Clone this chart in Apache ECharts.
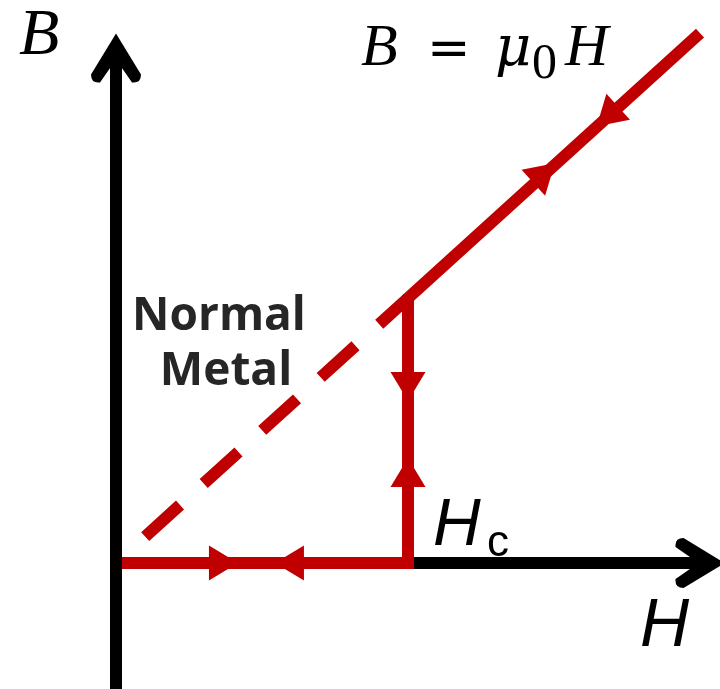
<!DOCTYPE html>
<html>
<head>
<meta charset="utf-8">
<script src="https://cdn.jsdelivr.net/npm/echarts@6/dist/echarts.min.js"></script>
<style>
  html, body { margin: 0; padding: 0; background: #fff; }
  #chart { width: 720px; height: 689px; }
</style>
</head>
<body>
<div id="chart"></div>
<script>
// Magnetisation curve of a type-I superconductor: B stays 0 below Hc,
// jumps to the normal-metal line B = mu0 H above it.
const curveH = [0, 10, 10, 20];   // solid path: Meissner state, jump at Hc, normal branch
const curveB = [0, 0, 10, 20];
const normalH = [1, 10];          // dashed continuation of B = mu0 H below Hc
const normalB = [1, 10];

// direction markers along the path
const arrowH = [3.68, 5.94, 10, 10, 14.66, 16.83];
const arrowB = [0, 0, 6.66, 3.42, 14.72, 16.85];
const arrowDir = ['right', 'left', 'down', 'up', 'forward', 'back'];

const axisRange = { hMin: 0, hMax: 20, bMin: -4.75, bMax: 19.06 };

const RED = '#C00000';
const chevron = 'path://M25,0 L50,41 Q50,50 41,49 L25,26 L9,49 Q0,50 0,41 Z';

const chart = echarts.init(document.getElementById('chart'), null, { renderer: 'canvas' });

function pairs(xs, ys) { return xs.map((x, i) => [x, ys[i]]); }

function txt(x, y, text, font, extra) {
  return { type: 'text', x: x, y: y,
           style: Object.assign({ text: text, font: font, fill: '#000', verticalAlign: 'middle' }, extra || {}) };
}

function baseOption(rotations) {
  return {
    animation: false,
    backgroundColor: '#ffffff',
    grid: { left: 116, right: 20, top: 58, bottom: 0, containLabel: false },
    xAxis: {
      type: 'value', min: axisRange.hMin, max: axisRange.hMax, z: 0,
      axisLine: { onZero: true, lineStyle: { color: '#000', width: 12 },
                  symbol: ['none', chevron], symbolSize: [50, 50] },
      axisTick: { show: false }, axisLabel: { show: false }, splitLine: { show: false }
    },
    yAxis: {
      type: 'value', min: axisRange.bMin, max: axisRange.bMax, z: 5,
      axisLine: { onZero: false, lineStyle: { color: '#000', width: 12 },
                  symbol: ['none', chevron], symbolSize: [50, 50] },
      axisTick: { show: false }, axisLabel: { show: false }, splitLine: { show: false }
    },
    series: [
      {
        type: 'line', data: pairs(normalH, normalB), clip: false, symbol: 'none', z: 2,
        lineStyle: { color: RED, width: 12, type: [47, 32], cap: 'butt' }
      },
      {
        type: 'line', data: pairs(curveH, curveB), clip: false, symbol: 'none', z: 3,
        lineStyle: { color: RED, width: 12, join: 'miter', cap: 'butt' }
      },
      {
        type: 'scatter', data: pairs(arrowH, arrowB), clip: false, z: 4,
        symbol: 'triangle', symbolSize: [35, 29],
        symbolRotate: (v, p) => rotations[p.dataIndex],
        itemStyle: { color: RED, opacity: 1 }
      }
    ],
    graphic: [
      // axis names
      txt(19, 37, 'B', 'italic 66px "Liberation Serif"'),
      txt(640, 627, 'H', 'italic 68px "Liberation Sans"'),
      // B = mu0 H
      txt(361, 49, 'B', 'italic 60px "Liberation Serif"'),
      txt(427, 51, '=', '52px "DejaVu Sans"'),
      txt(495, 50, 'μ', 'italic 56px "DejaVu Serif"'),
      txt(532, 65, '0', '50px "Liberation Serif"'),
      txt(565, 49, 'H', 'italic 60px "Liberation Serif"'),
      // region label
      txt(219, 317, 'Normal', 'bold 46px "Open Sans"', { fill: '#262626', align: 'center' }),
      txt(226, 372, 'Metal', 'bold 46px "Open Sans"', { fill: '#262626', align: 'center' }),
      // critical field
      txt(433, 527, 'H', 'italic 66px "Liberation Sans"'),
      txt(487, 544, 'c', '44px "Liberation Sans"')
    ]
  };
}

// first pass to obtain the pixel slope of the B = mu0 H line
chart.setOption(baseOption(arrowDir.map(() => 0)));
const p1 = chart.convertToPixel({ gridIndex: 0 }, [curveH[2], curveB[2]]);
const p2 = chart.convertToPixel({ gridIndex: 0 }, [curveH[3], curveB[3]]);
const diagDeg = Math.atan2(p1[1] - p2[1], p2[0] - p1[0]) * 180 / Math.PI;
const rotByDir = {
  right: -90, left: 90, down: 180, up: 0,
  forward: diagDeg - 90, back: diagDeg + 90
};
chart.setOption(baseOption(arrowDir.map(d => rotByDir[d])), true);
</script>
</body>
</html>
